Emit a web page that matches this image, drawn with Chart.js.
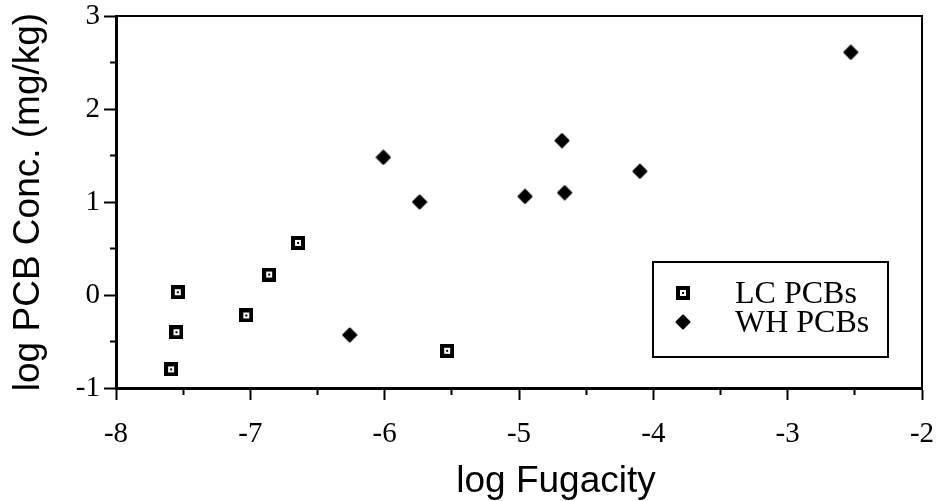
<!DOCTYPE html>
<html>
<head>
<meta charset="utf-8">
<title>log PCB Conc. vs log Fugacity</title>
<script src="https://cdn.jsdelivr.net/npm/chart.js@4/dist/chart.umd.min.js"></script>
<style>
    html, body { margin: 0; padding: 0; background: #ffffff; }
    #wrap { width: 938px; height: 501px; }
</style>
</head>
<body>
<div id="wrap"><canvas id="pcbChart" width="938" height="501"></canvas></div>
<script>
// values
const seriesNames = ['LC PCBs', 'WH PCBs'];
const lcFugacity = [-7.59, -7.55, -7.54, -7.03, -6.86, -6.645, -5.535];
const lcConc = [-0.80, -0.40, 0.03, -0.22, 0.22, 0.56, -0.60];
const whFugacity = [-6.26, -6.01, -5.74, -4.955, -4.68, -4.66, -4.10, -2.53];
const whConc = [-0.43, 1.48, 1.00, 1.06, 1.66, 1.10, 1.33, 2.61];
const xTicks = [-8, -7, -6, -5, -4, -3, -2];
const yTicks = [-1, 0, 1, 2, 3];
const xTitle = 'log Fugacity';
const yTitle = 'log PCB Conc. (mg/kg)';

const serif = '"Liberation Serif", "Times New Roman", serif';
const sans = '"Liberation Sans", Arial, sans-serif';

document.addEventListener('DOMContentLoaded', function () {
    initChart();
});

function makeSquareMarker() {
    const c = document.createElement('canvas');
    c.width = 14;
    c.height = 14;
    const g = c.getContext('2d');
    g.fillStyle = '#000';
    g.fillRect(0, 0, 14, 14);
    g.fillStyle = '#fff';
    g.fillRect(4, 4, 6, 6);
    g.fillStyle = '#000';
    g.fillRect(6, 6, 2, 2);
    return c;
}

function makeDiamondMarker() {
    const c = document.createElement('canvas');
    c.width = 16;
    c.height = 16;
    const g = c.getContext('2d');
    g.beginPath();
    g.moveTo(8, 1.5);
    g.lineTo(14.5, 8);
    g.lineTo(8, 14.5);
    g.lineTo(1.5, 8);
    g.closePath();
    g.fillStyle = '#000';
    g.fill();
    g.lineJoin = 'round';
    g.lineWidth = 2;
    g.strokeStyle = '#000';
    g.stroke();
    return c;
}

function toPoints(xs, ys) {
    return xs.map((x, i) => ({ x: x, y: ys[i] }));
}

// closes the box on the top and right sides
const plotFrame = {
    id: 'plotFrame',
    afterDraw(chart) {
        const { ctx, chartArea } = chart;
        ctx.save();
        ctx.strokeStyle = '#000';
        ctx.lineWidth = 2;
        ctx.beginPath();
        ctx.moveTo(chartArea.left, chartArea.top);
        ctx.lineTo(chartArea.right, chartArea.top);
        ctx.lineTo(chartArea.right, chartArea.bottom);
        ctx.stroke();
        ctx.restore();
    }
};

// boxed legend in the lower right corner of the plot
const legendBox = {
    id: 'legendBox',
    afterDraw(chart) {
        const { ctx, chartArea } = chart;
        const w = 235, h = 95;
        const left = chartArea.right - 34 - w;
        const top = chartArea.bottom - 31 - h;
        ctx.save();
        ctx.strokeStyle = '#000';
        ctx.lineWidth = 2;
        ctx.strokeRect(left, top, w, h);
        ctx.font = '32px ' + serif;
        ctx.fillStyle = '#000';
        ctx.textAlign = 'left';
        ctx.textBaseline = 'alphabetic';
        chart.data.datasets.forEach((ds, i) => {
            const cy = top + 31 + i * 29;
            const style = ds.pointStyle;
            if (Chart.helpers && Chart.helpers.drawPoint) {
                Chart.helpers.drawPoint(ctx, { pointStyle: style, radius: 7, rotation: 0, borderWidth: 0 }, left + 30, cy);
            } else {
                ctx.drawImage(style, left + 30 - style.width / 2, cy - style.height / 2);
            }
            ctx.fillText(ds.label, left + 82, cy + 10);
        });
        ctx.restore();
    }
};

// x axis caption sits a little right of the plot centre in the original
const xCaption = {
    id: 'xCaption',
    afterDraw(chart) {
        const { ctx, chartArea } = chart;
        ctx.save();
        ctx.font = '37px ' + sans;
        ctx.fillStyle = '#000';
        ctx.textAlign = 'center';
        ctx.textBaseline = 'alphabetic';
        ctx.fillText(xTitle, (chartArea.left + chartArea.right) / 2 + 37, 492);
        ctx.restore();
    }
};

function initChart() {
    const ctx = document.getElementById('pcbChart').getContext('2d');

    // bottom ticks are stroked from the axis outward, left ticks toward the axis;
    // minor ticks keep only the 5px next to the axis
    const minorDash = (list, dash) => (c) => {
        const v = c.tick ? c.tick.value : null;
        return list.includes(v) ? [] : dash;
    };

    const data = {
        datasets: [{
            label: seriesNames[0],
            data: toPoints(lcFugacity, lcConc),
            pointStyle: makeSquareMarker(),
            pointRadius: 7,
            showLine: false
        }, {
            label: seriesNames[1],
            data: toPoints(whFugacity, whConc),
            pointStyle: makeDiamondMarker(),
            pointRadius: 8,
            showLine: false
        }]
    };

    const options = {
        responsive: false,
        animation: false,
        layout: { padding: { left: 0, top: 16, right: 16, bottom: 0 } },
        plugins: {
            legend: { display: false },
            tooltip: { enabled: false }
        },
        scales: {
            x: {
                type: 'linear',
                position: 'bottom',
                min: xTicks[0],
                max: xTicks[xTicks.length - 1],
                afterFit: (scale) => {
                    scale.height = 113;
                    scale.paddingLeft = 0;
                    scale.paddingRight = 0;
                },
                border: { display: true, color: '#000', width: 3 },
                grid: {
                    drawOnChartArea: false,
                    drawTicks: true,
                    tickLength: 12,
                    tickWidth: 2,
                    tickColor: '#000',
                    tickBorderDash: minorDash(xTicks, [5, 100])
                },
                ticks: {
                    stepSize: 0.5,
                    autoSkip: false,
                    maxRotation: 0,
                    padding: 17,
                    color: '#000',
                    font: { family: serif, size: 29 },
                    callback: (value) => xTicks.includes(value) ? String(value) : ''
                },
                title: { display: false }
            },
            y: {
                type: 'linear',
                position: 'left',
                min: yTicks[0],
                max: yTicks[yTicks.length - 1],
                afterFit: (scale) => {
                    scale.width = 116;
                    scale.paddingTop = 0;
                    scale.paddingBottom = 0;
                },
                border: { display: true, color: '#000', width: 3 },
                grid: {
                    drawOnChartArea: false,
                    drawTicks: true,
                    tickLength: 12,
                    tickWidth: 2,
                    tickColor: '#000',
                    tickBorderDash: minorDash(yTicks, [0, 6, 5, 100])
                },
                ticks: {
                    stepSize: 0.5,
                    autoSkip: false,
                    padding: 4,
                    color: '#000',
                    font: { family: serif, size: 29, lineHeight: 1 },
                    callback: (value) => yTicks.includes(value) ? String(value) : ''
                },
                title: {
                    display: true,
                    text: yTitle,
                    color: '#000',
                    font: { family: sans, size: 37 },
                    padding: { top: 7, bottom: 0 }
                }
            }
        }
    };

    window.pcbChart = new Chart(ctx, {
        type: 'scatter',
        data,
        options,
        plugins: [plotFrame, legendBox, xCaption]
    });
}
</script>
</body>
</html>
